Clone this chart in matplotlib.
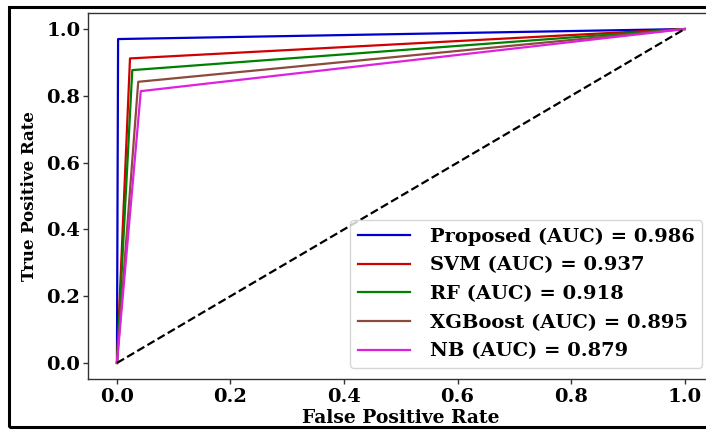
import numpy as np
import matplotlib
matplotlib.use("Agg")
import matplotlib.pyplot as plt
from matplotlib.patches import Rectangle

# ROC operating points (single threshold per model)
models = ["Proposed", "SVM", "RF", "XGBoost", "NB"]
auc_labels = ["0.986", "0.937", "0.918", "0.895", "0.879"]
fpr_mid = [0.002, 0.023, 0.027, 0.0375, 0.042]
tpr_mid = [0.970, 0.912, 0.877, 0.842, 0.814]
colors = ["#0000cc", "#d00000", "#008000", "#8c4a3c", "#e020e0"]
ticks = [0.0, 0.2, 0.4, 0.6, 0.8, 1.0]

plt.rcParams['font.family'] = ['DejaVu Serif']
plt.rcParams['font.weight'] = 'bold'

fig = plt.figure(figsize=(7.06, 4.30), dpi=100)
ax = fig.add_axes([88 / 706, 51 / 430, 625 / 706, 366 / 430])

for name, auc, fx, ty, c in zip(models, auc_labels, fpr_mid, tpr_mid, colors):
    ax.plot([0, fx, 1], [0, ty, 1], color=c, lw=1.6,
            label=f"{name} (AUC) = {auc}")
ax.plot([0, 1], [0, 1], color='black', lw=1.6, ls='--')

ax.set_xlim(-0.051, 1.05)
ax.set_ylim(-0.048, 1.048)
ax.set_xticks(ticks)
ax.set_yticks(ticks)
ax.tick_params(labelsize=14, width=1, length=3.5, color='#333333')
ax.tick_params(axis='y', pad=2)
ax.tick_params(axis='x', pad=3)
for lab in ax.get_xticklabels() + ax.get_yticklabels():
    lab.set_fontweight('bold')
for sp in ax.spines.values():
    sp.set_color('#333333')
    sp.set_linewidth(1.0)

ax.set_xlabel("False Positive Rate", fontsize=13.5, fontweight='bold', labelpad=2)
ax.set_ylabel("True Positive Rate", fontsize=12, fontweight='bold', labelpad=6)

leg = ax.legend(loc='lower right', handlelength=2.7,
                handletextpad=1.0, labelspacing=0.55, borderaxespad=0.55,
                prop={'weight': 'bold', 'size': 14})
leg.get_frame().set_edgecolor('#cccccc')

# thick black frame around the figure
fig.add_artist(Rectangle((9 / 706, 3 / 430), 1.0, 420 / 430,
                         transform=fig.transFigure, fill=False,
                         edgecolor='black', lw=2.2, clip_on=False))

fig.savefig("out.png", dpi=100)
